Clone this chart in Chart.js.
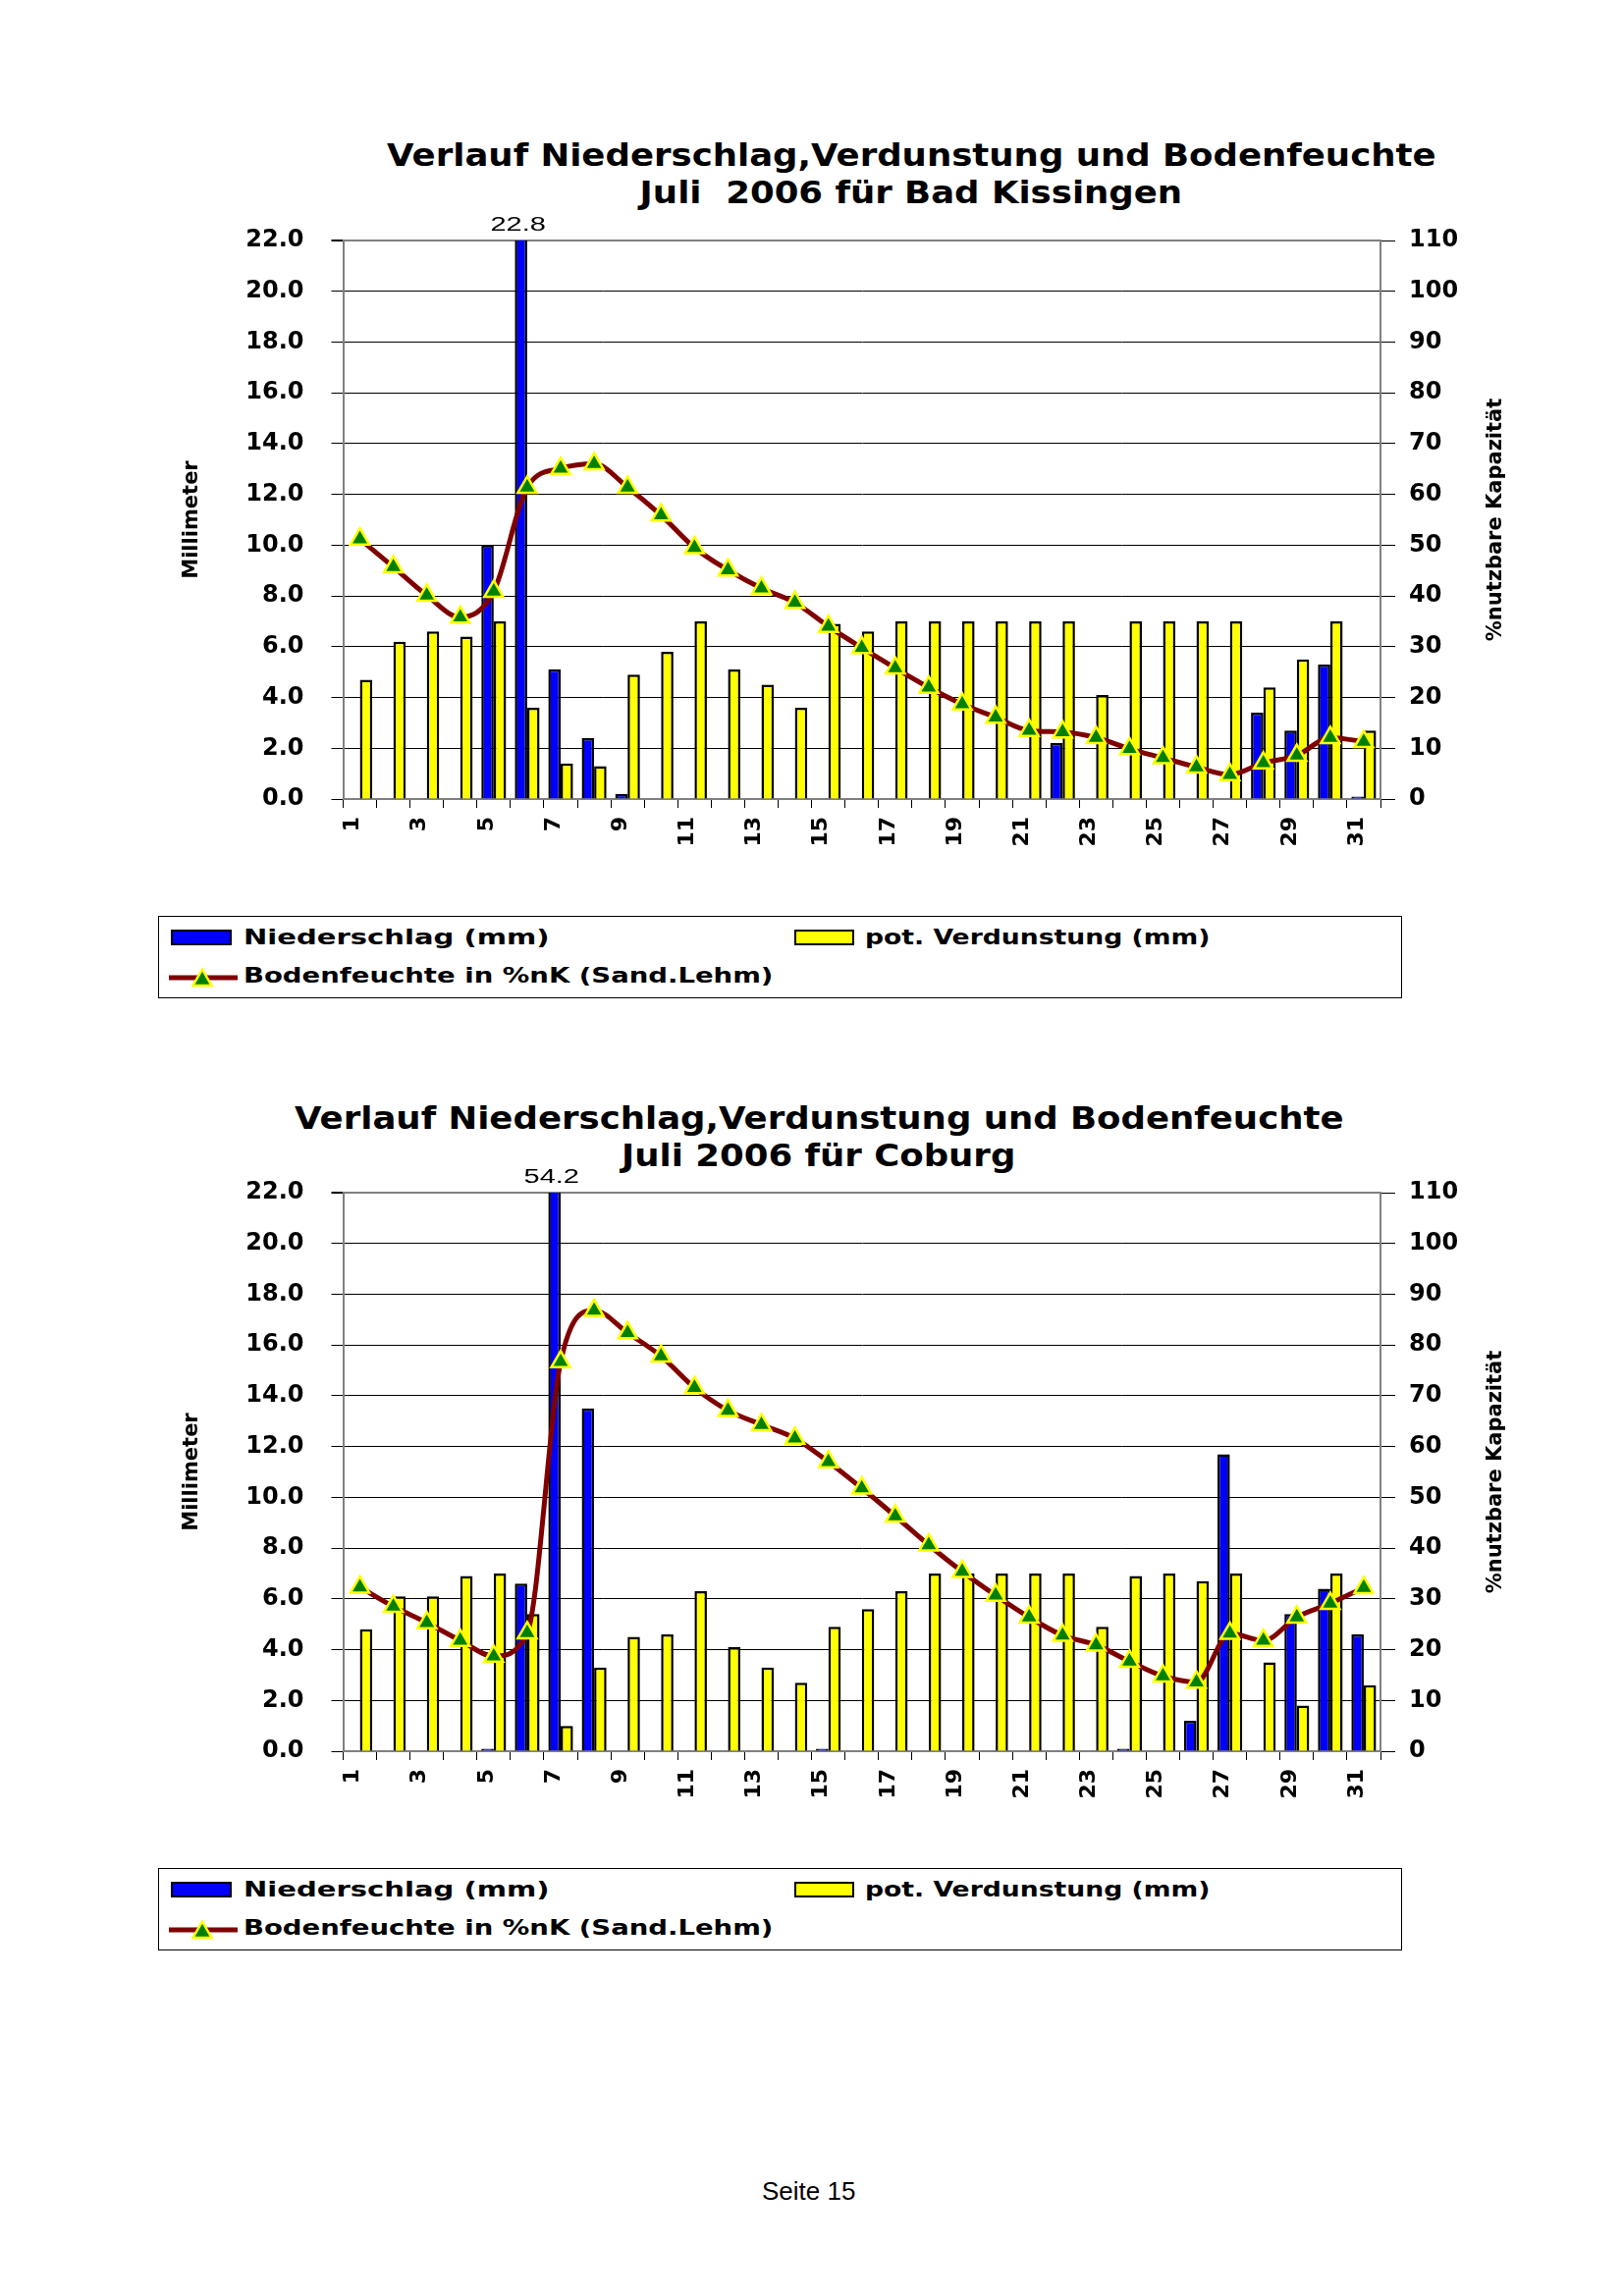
<!DOCTYPE html>
<html>
<head>
<meta charset="utf-8">
<script src="https://cdn.jsdelivr.net/npm/chart.js@4.4.0/dist/chart.umd.min.js"></script>
<style>
  body { margin: 0; background: #fff; }
  #page { position: relative; width: 1653px; height: 2339px; overflow: hidden; background: #fff; }
  canvas { position: absolute; }
  .title {
    position: absolute; width: 1400px; text-align: center;
    font-family: "DejaVu Sans", sans-serif; font-weight: bold; font-size: 32px; line-height: 38px;
    color: #000; white-space: pre;
  }
  .title span { display: inline-block; transform: scaleX(1.11); }
  .legend {
    position: absolute; left: 161px; width: 1267px; height: 84px;
    box-sizing: border-box; border: 1px solid #000; background: #fff;
  }
  .legend .sw { position: absolute; box-sizing: border-box; border: 2px solid #000; height: 16px; }
  .legend .txt {
    position: absolute; font-family: "DejaVu Sans", sans-serif; font-weight: bold;
    font-size: 22px; line-height: 22px; white-space: pre; color: #000;
    transform-origin: left center;
  }
  .legend svg { position: absolute; }
  #footer {
    position: absolute; left: 776px; top: 2219px;
    font-family: "Liberation Sans", Arial, sans-serif; font-size: 26px; line-height: 26px; color: #000;
  }
</style>
</head>
<body>
<div id="page">
  <div class="title" style="left:228px; top:139px;"><span>Verlauf Niederschlag,Verdunstung und Bodenfeuchte</span><br><span>Juli  2006 für Bad Kissingen</span></div>
  <canvas id="chart1" width="1420" height="700" style="left:160px; top:200px;"></canvas>
  <div class="legend" style="top:933px;">
    <div class="sw" style="left:12px; top:13px; width:62px; background:#0000ff;"></div>
    <div class="txt" style="left:86px; top:10px; transform:scaleX(1.32);">Niederschlag (mm)</div>
    <div class="sw" style="left:647px; top:13px; width:61px; background:#ffff00;"></div>
    <div class="txt" style="left:719px; top:10px; transform:scaleX(1.21);">pot. Verdunstung (mm)</div>
    <svg style="left:10px; top:50px;" width="70" height="24"><line x1="0" y1="12" x2="70" y2="12" stroke="#800000" stroke-width="5"/><polygon points="34,3.5 24.5,20 43.5,20" fill="#008000" stroke="#ffff00" stroke-width="2.5"/></svg>
    <div class="txt" style="left:86px; top:49px; transform:scaleX(1.25);">Bodenfeuchte in %nK (Sand.Lehm)</div>
  </div>

  <div class="title" style="left:134px; top:1120px;"><span>Verlauf Niederschlag,Verdunstung und Bodenfeuchte</span><br><span>Juli 2006 für Coburg</span></div>
  <canvas id="chart2" width="1420" height="700" style="left:160px; top:1170px;"></canvas>
  <div class="legend" style="top:1903px;">
    <div class="sw" style="left:12px; top:13px; width:62px; background:#0000ff;"></div>
    <div class="txt" style="left:86px; top:10px; transform:scaleX(1.32);">Niederschlag (mm)</div>
    <div class="sw" style="left:647px; top:13px; width:61px; background:#ffff00;"></div>
    <div class="txt" style="left:719px; top:10px; transform:scaleX(1.21);">pot. Verdunstung (mm)</div>
    <svg style="left:10px; top:50px;" width="70" height="24"><line x1="0" y1="12" x2="70" y2="12" stroke="#800000" stroke-width="5"/><polygon points="34,3.5 24.5,20 43.5,20" fill="#008000" stroke="#ffff00" stroke-width="2.5"/></svg>
    <div class="txt" style="left:86px; top:49px; transform:scaleX(1.25);">Bodenfeuchte in %nK (Sand.Lehm)</div>
  </div>

  <div id="footer">Seite 15</div>
</div>

<script>
// Days of July 2006
const days = ["1","2","3","4","5","6","7","8","9","10","11","12","13","14","15","16",
  "17","18","19","20","21","22","23","24","25","26","27","28","29","30","31"];

// Bad Kissingen
const kissingenRain = [0, 0, 0, 0, 10.0, 22.8, 5.1, 2.4, 0.2, 0, 0, 0, 0, 0, 0, 0,
  0, 0, 0, 0, 0, 2.2, 0, 0, 0, 0, 0, 3.4, 2.7, 5.3, 0.1];
const kissingenEvap = [4.7, 6.2, 6.6, 6.4, 7.0, 3.6, 1.4, 1.3, 4.9, 5.8, 7.0, 5.1, 4.5, 3.6, 6.9, 6.6,
  7.0, 7.0, 7.0, 7.0, 7.0, 7.0, 4.1, 7.0, 7.0, 7.0, 7.0, 4.4, 5.5, 7.0, 2.7];
const kissingenSoil = [51.2, 45.7, 40.1, 35.8, 40.9, 61.4, 65.1, 66.0, 61.4, 55.9, 49.5, 45.1, 41.5, 38.7, 34.0, 29.8,
  25.8, 22.0, 18.7, 16.1, 13.5, 13.2, 12.1, 9.9, 8.1, 6.3, 4.8, 7.1, 8.6, 12.1, 11.3];

// Coburg
const coburgRain = [0, 0, 0, 0, 0.1, 6.6, 54.2, 13.5, 0, 0, 0, 0, 0, 0, 0.1, 0,
  0, 0, 0, 0, 0, 0, 0, 0.1, 0, 1.2, 11.7, 0, 5.4, 6.4, 4.6];
const coburgEvap = [4.8, 6.1, 6.1, 6.9, 7.0, 5.4, 1.0, 3.3, 4.5, 4.6, 6.3, 4.1, 3.3, 2.7, 4.9, 5.6,
  6.3, 7.0, 7.0, 7.0, 7.0, 7.0, 4.9, 6.9, 7.0, 6.7, 7.0, 3.5, 1.8, 7.0, 2.6];
const coburgSoil = [32.3, 28.5, 25.3, 21.8, 18.7, 23.3, 76.7, 86.8, 82.4, 77.8, 71.6, 67.1, 64.3, 61.6, 57.0, 51.8,
  46.3, 40.6, 35.4, 30.7, 26.4, 22.8, 20.9, 17.7, 14.8, 13.6, 23.2, 21.8, 26.4, 29.1, 32.2];

// Axis settings
const mmMax = 22;
const mmStep = 2;
const pctMax = 110;
const pctStep = 10;
const leftTitle = "Millimeter";
const rightTitle = "%nutzbare Kapazität";

const tickFont = { family: "DejaVu Sans", weight: "bold", size: 24 };

// Writes the value above bars that run past the top of the axis
const overflowLabels = {
  id: "overflowLabels",
  afterDatasetsDraw(chart) {
    const ctx = chart.ctx;
    const data = chart.data.datasets[0].data;
    const max = chart.scales.y.max;
    chart.getDatasetMeta(0).data.forEach((bar, i) => {
      if (data[i] > max) {
        ctx.save();
        ctx.translate(bar.x - 3, chart.chartArea.top - 10);
        ctx.scale(1.45, 1);
        ctx.font = "20px 'Liberation Sans'";
        ctx.fillStyle = "#000";
        ctx.textAlign = "center";
        ctx.textBaseline = "alphabetic";
        ctx.fillText(data[i].toFixed(1), 0, 0);
        ctx.restore();
      }
    });
  }
};

// Right axis title, reading bottom to top
const rightAxisTitle = {
  id: "rightAxisTitle",
  afterDraw(chart) {
    const ctx = chart.ctx;
    const area = chart.chartArea;
    ctx.save();
    ctx.translate(1364, (area.top + area.bottom) / 2);
    ctx.rotate(-Math.PI / 2);
    ctx.font = "bold 21px 'DejaVu Sans'";
    ctx.fillStyle = "#000";
    ctx.textAlign = "center";
    ctx.textBaseline = "middle";
    ctx.fillText(rightTitle, 0, 0);
    ctx.restore();
  }
};

function makeChart(canvasId, rain, evap, soil) {
  const ctx = document.getElementById(canvasId).getContext("2d");
  return new Chart(ctx, {
    type: "bar",
    data: {
      labels: days,
      datasets: [
        {
          label: "Niederschlag (mm)",
          data: rain,
          backgroundColor: "#0000ff",
          borderColor: "#000",
          borderWidth: 2.5,
          yAxisID: "y",
          order: 1
        },
        {
          label: "pot. Verdunstung (mm)",
          data: evap,
          backgroundColor: "#ffff00",
          borderColor: "#000",
          borderWidth: 2.5,
          yAxisID: "y",
          order: 1
        },
        {
          type: "line",
          label: "Bodenfeuchte in %nK (Sand.Lehm)",
          data: soil,
          yAxisID: "y1",
          borderColor: "#800000",
          borderWidth: 5,
          cubicInterpolationMode: "monotone",
          pointStyle: "triangle",
          pointRadius: 11,
          pointBackgroundColor: "#008000",
          pointBorderColor: "#ffff00",
          pointBorderWidth: 2.5,
          order: 0
        }
      ]
    },
    options: {
      responsive: false,
      animation: false,
      devicePixelRatio: 1,
      categoryPercentage: 0.74,
      barPercentage: 1.0,
      layout: { padding: { top: 45, left: 0, right: 0, bottom: 0 } },
      plugins: {
        legend: { display: false },
        tooltip: { enabled: false },
        title: { display: false }
      },
      scales: {
        x: {
          offset: true,
          grid: { offset: true, drawOnChartArea: false, tickLength: 9, tickColor: "#000" },
          border: { color: "#808080", width: 2 },
          ticks: {
            autoSkip: false,
            minRotation: 90,
            maxRotation: 90,
            padding: 9,
            labelOffset: -7,
            color: "#000",
            font: { family: "DejaVu Sans", weight: "bold", size: 22 },
            callback: (value, index) => (index % 2 === 0 ? days[index] : "")
          },
          afterFit: scale => { scale.height = 86; }
        },
        y: {
          position: "left",
          min: 0,
          max: mmMax,
          grid: {
            color: c => (c.tick && c.tick.value === mmMax ? "#808080" : "#000"),
            lineWidth: c => (c.tick && c.tick.value === mmMax ? 2 : 1),
            tickLength: 12,
            tickColor: "#000"
          },
          border: { color: "#808080", width: 2 },
          ticks: {
            stepSize: mmStep,
            padding: 28,
            color: "#000",
            font: tickFont,
            callback: v => v.toFixed(1)
          },
          title: {
            display: true,
            text: leftTitle,
            color: "#000",
            font: { family: "DejaVu Sans", weight: "bold", size: 21 },
            padding: { top: 23, bottom: 0 }
          },
          afterFit: scale => { scale.width = 189.5; }
        },
        y1: {
          position: "right",
          min: 0,
          max: pctMax,
          grid: { drawOnChartArea: false, tickLength: 15, tickColor: "#000" },
          border: { color: "#808080", width: 2 },
          ticks: {
            stepSize: pctStep,
            padding: 14,
            color: "#000",
            font: tickFont
          },
          afterFit: scale => { scale.width = 174; }
        }
      }
    },
    plugins: [overflowLabels, rightAxisTitle]
  });
}

makeChart("chart1", kissingenRain, kissingenEvap, kissingenSoil);
makeChart("chart2", coburgRain, coburgEvap, coburgSoil);
</script>
</body>
</html>
